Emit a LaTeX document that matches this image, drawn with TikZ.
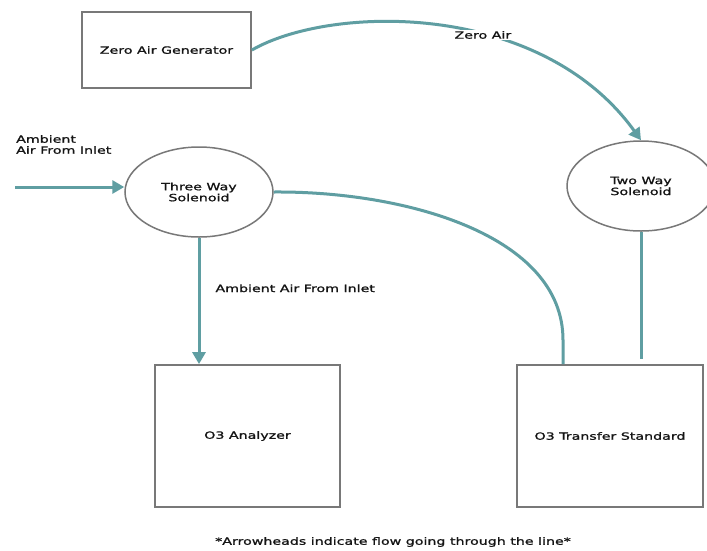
\documentclass[tikz,border=0pt]{standalone}
\usepackage{fontspec}
\setmainfont{DejaVu Sans}[FakeStretch=1.42,FakeBold=1.2]
\usetikzlibrary{arrows.meta,shapes.geometric}
\definecolor{pipe}{RGB}{95,158,162}
\definecolor{edgegrey}{RGB}{120,120,120}
\definecolor{txt}{RGB}{20,20,20}
\begin{document}
\begin{tikzpicture}[x=1pt,y=-1pt,
  every node/.style={font=\fontsize{10}{11}\selectfont, text=txt, align=center},
  box/.style={draw=edgegrey, line width=1.8pt, rectangle, inner sep=0pt},
  sol/.style={draw=edgegrey, line width=1.5pt, ellipse, inner sep=0pt,
              minimum width=148pt, minimum height=90pt},
  pipeline/.style={draw=pipe, line width=3pt},
  flow/.style={pipeline, -{Triangle[length=12pt,width=13pt]}},
  lbl/.style={inner sep=1pt}]
\clip (0,0) rectangle (707,550);
\fill[white] (0,0) rectangle (707,550);

\node[box, minimum width=169pt, minimum height=76pt] (zag) at (166.5,50) {Zero Air Generator};
\node[sol] (three) at (199,192) {Three Way\\Solenoid};
\node[sol] (two) at (641,186) {Two Way\\Solenoid};
\node[box, minimum width=185pt, minimum height=142pt] (ana) at (247.5,436) {O3 Analyzer};
\node[box, minimum width=186pt, minimum height=142pt] (tsd) at (610,436) {O3 Transfer Standard};

\node[lbl, align=left, anchor=west] (inletlbl) at (15,144.5) {Ambient\\Air From Inlet};
\coordinate (inlet) at (15,187);
\coordinate (bend) at (563,340);

\draw[flow] (inlet) -- (inlet -| three.west);
\draw[flow] (three.south) -- (three.south |- ana.north)
  node[lbl, pos=0.4, anchor=west, xshift=14pt] (amblbl) {Ambient Air From Inlet};
\draw[flow] (zag.east) .. controls (330,5) and (540,0) .. (two.north)
  node[lbl, pos=0.6, fill=white] (zalbl) {Zero Air};
\draw[pipeline] (three.east) .. controls (405,191) and (563,235) .. (bend) -- (bend |- tsd.north);
\draw[pipeline] (two.south) -- ([yshift=5pt]two.south |- tsd.north);

\node[lbl] (note) at (393,542) {*Arrowheads indicate flow going through the line*};
\end{tikzpicture}
\end{document}
